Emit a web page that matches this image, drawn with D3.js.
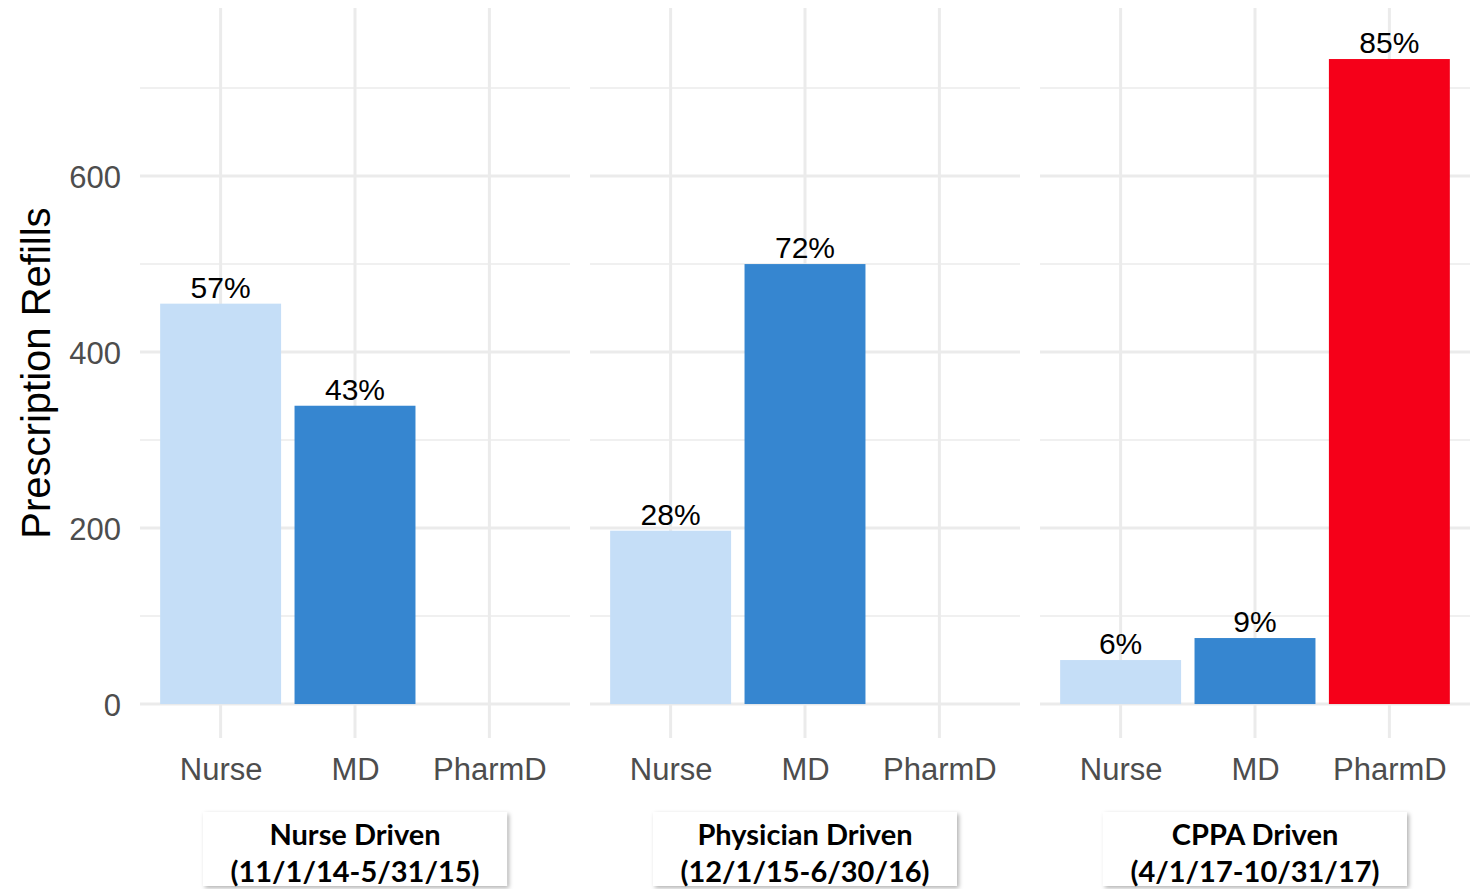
<!DOCTYPE html>
<html>
<head>
<meta charset="utf-8">
<script src="https://cdn.jsdelivr.net/npm/d3@7"></script>
<style>
  body { margin: 0; background: #fff; }
  svg { display: block; }
  .axis text { font-family: "Liberation Sans", Arial, sans-serif; fill: #4d4d4d; }
</style>
</head>
<body>
<svg id="chart" width="1479" height="889"></svg>
<script>
// data
var periods = ["Nurse Driven", "Physician Driven", "CPPA Driven"];
var periodDates = ["(11/1/14-5/31/15)", "(12/1/15-6/30/16)", "(4/1/17-10/31/17)"];
var roles = ["Nurse", "MD", "PharmD"];
var nurseRefills = [455, 197, 50];
var mdRefills = [339, 500, 75];
var pharmdRefills = [0, 0, 733];
var nursePct = ["57%", "28%", "6%"];
var mdPct = ["43%", "72%", "9%"];
var pharmdPct = ["", "", "85%"];
var yTicks = [0, 200, 400, 600];
var yMinor = [100, 300, 500, 700];

(function () {
  "use strict";
  var colors = { Nurse: "#c5def7", MD: "#3686d0", PharmD: "#f50019" };

  var rows = [];
  periods.forEach(function (p, i) {
    rows.push({ period: p, role: "Nurse", value: nurseRefills[i], label: nursePct[i] });
    rows.push({ period: p, role: "MD", value: mdRefills[i], label: mdPct[i] });
    rows.push({ period: p, role: "PharmD", value: pharmdRefills[i], label: pharmdPct[i] });
  });

  var svg = d3.select("#chart");
  var plotTop = 8, plotBottom = 738;

  var panel = d3.scaleBand().domain(periods).range([140, 1470]).paddingInner(0.0444);
  var x = d3.scalePoint().domain(roles).range([0, panel.bandwidth()]).padding(0.6);
  var barW = x.step() * 0.9;
  var y = d3.scaleLinear().domain([-38.6, 791]).range([plotBottom, plotTop]);

  var defs = svg.append("defs");
  var f = defs.append("filter").attr("id", "shadow")
    .attr("x", "-10%").attr("y", "-20%").attr("width", "130%").attr("height", "150%");
  f.append("feDropShadow").attr("dx", 2).attr("dy", 2).attr("stdDeviation", 2)
    .attr("flood-color", "#000").attr("flood-opacity", 0.3);

  var panels = svg.selectAll("g.panel").data(periods).enter()
    .append("g").attr("class", "panel")
    .attr("transform", function (d) { return "translate(" + panel(d) + ",0)"; });

  // grid
  panels.selectAll("line.minor").data(yMinor).enter().append("line")
    .attr("x1", 0).attr("x2", panel.bandwidth())
    .attr("y1", function (d) { return y(d); }).attr("y2", function (d) { return y(d); })
    .attr("stroke", "#ebebeb").attr("stroke-width", 1.6);
  panels.selectAll("line.major").data(yTicks).enter().append("line")
    .attr("x1", 0).attr("x2", panel.bandwidth())
    .attr("y1", function (d) { return y(d); }).attr("y2", function (d) { return y(d); })
    .attr("stroke", "#ebebeb").attr("stroke-width", 3);
  panels.selectAll("line.vgrid").data(roles).enter().append("line")
    .attr("x1", function (d) { return x(d); }).attr("x2", function (d) { return x(d); })
    .attr("y1", plotTop).attr("y2", plotBottom)
    .attr("stroke", "#ebebeb").attr("stroke-width", 3);

  // bars
  panels.selectAll("rect.bar")
    .data(function (p) { return rows.filter(function (r) { return r.period === p && r.value > 0; }); })
    .enter().append("rect").attr("class", "bar")
    .attr("x", function (d) { return x(d.role) - barW / 2; })
    .attr("width", barW)
    .attr("y", function (d) { return y(d.value); })
    .attr("height", function (d) { return y(0) - y(d.value); })
    .attr("fill", function (d) { return colors[d.role]; });

  panels.selectAll("text.pct")
    .data(function (p) { return rows.filter(function (r) { return r.period === p && r.label; }); })
    .enter().append("text").attr("class", "pct")
    .attr("x", function (d) { return x(d.role); })
    .attr("y", function (d) { return y(d.value) - 6; })
    .attr("text-anchor", "middle")
    .style("font-family", "'Liberation Sans', Arial, sans-serif")
    .style("font-size", "30px").style("fill", "#000")
    .text(function (d) { return d.label; });

  // x axes
  panels.append("g").attr("class", "axis")
    .attr("transform", "translate(0," + plotBottom + ")")
    .call(d3.axisBottom(x).tickSize(0).tickPadding(20))
    .call(function (g) { g.select(".domain").remove(); })
    .selectAll("text").style("font-size", "31px");

  // y axis
  svg.append("g").attr("class", "axis")
    .attr("transform", "translate(" + panel(periods[0]) + ",0)")
    .call(d3.axisLeft(y).tickValues(yTicks).tickSize(0).tickPadding(19))
    .call(function (g) { g.select(".domain").remove(); })
    .selectAll("text").style("font-size", "31px").attr("dy", "0.36em");

  svg.append("text")
    .attr("transform", "translate(50," + ((y(0) + plotTop) / 2 + 17) + ") rotate(-90)")
    .attr("text-anchor", "middle")
    .style("font-family", "'Liberation Sans', Arial, sans-serif")
    .style("font-size", "40px").style("fill", "#000")
    .text("Prescription Refills");

  // period boxes
  var boxes = panels.append("g")
    .attr("transform", "translate(" + panel.bandwidth() / 2 + ",812)");
  boxes.append("rect")
    .attr("x", -152).attr("width", 304).attr("y", 0).attr("height", 74)
    .attr("fill", "#fff").attr("filter", "url(#shadow)");
  boxes.append("text").attr("y", 33).attr("text-anchor", "middle")
    .style("font-family", "Lato, 'Open Sans', sans-serif").style("font-weight", 700)
    .style("font-size", "29px").style("fill", "#000")
    .text(function (d) { return d; });
  boxes.append("text").attr("y", 70).attr("text-anchor", "middle")
    .style("font-family", "Lato, 'Open Sans', sans-serif").style("font-weight", 700)
    .style("font-size", "29px").style("fill", "#000")
    .text(function (d, i) { return periodDates[i]; });
}());
</script>
</body>
</html>
